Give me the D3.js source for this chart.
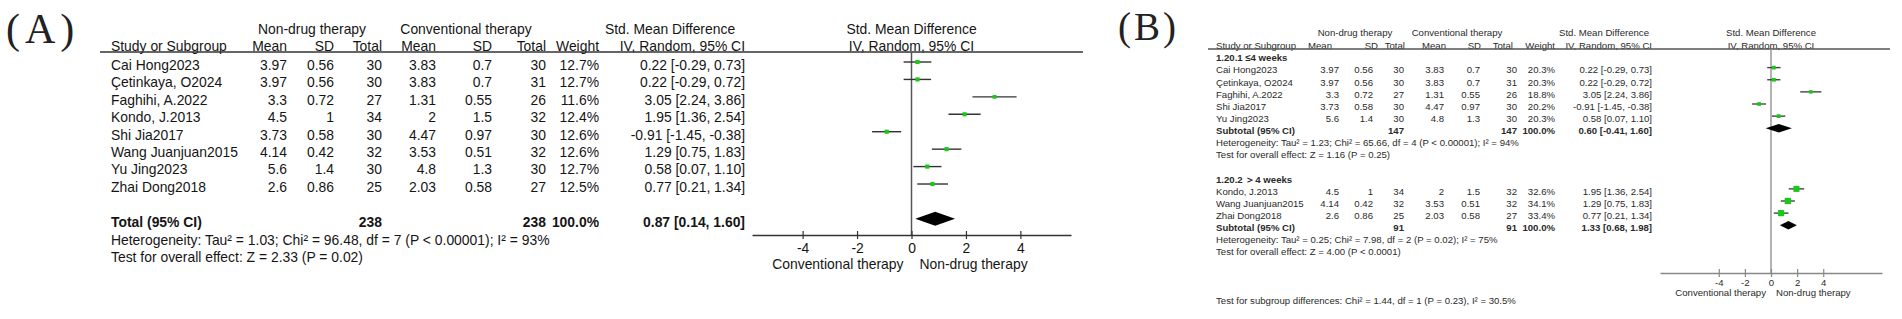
<!DOCTYPE html>
<html>
<head>
<meta charset="utf-8">
<script src="https://cdn.jsdelivr.net/npm/d3@7"></script>
<style>
  body { margin: 0; background: #fff; }
  text { font-family: "Liberation Sans", Arial, sans-serif; }
</style>
</head>
<body>
<script>
// study data (panel A order)
const studies = ['Cai Hong2023', 'Çetinkaya, O2024', 'Faghihi, A.2022', 'Kondo, J.2013',
  'Shi Jia2017', 'Wang Juanjuan2015', 'Yu Jing2023', 'Zhai Dong2018']
const meanNon = [3.97, 3.97, 3.3, 4.5, 3.73, 4.14, 5.6, 2.6]
const sdNon = [0.56, 0.56, 0.72, 1, 0.58, 0.42, 1.4, 0.86]
const totalNon = [30, 30, 27, 34, 30, 32, 30, 25]
const meanConv = [3.83, 3.83, 1.31, 2, 4.47, 3.53, 4.8, 2.03]
const sdConv = [0.7, 0.7, 0.55, 1.5, 0.97, 0.51, 1.3, 0.58]
const totalConv = [30, 31, 26, 32, 30, 32, 30, 27]
const smd = [0.22, 0.22, 3.05, 1.95, -0.91, 1.29, 0.58, 0.77]
const ciLow = [-0.29, -0.29, 2.24, 1.36, -1.45, 0.75, 0.07, 0.21]
const ciHigh = [0.73, 0.72, 3.86, 2.54, -0.38, 1.83, 1.10, 1.34]
const weightA = [12.7, 12.7, 11.6, 12.4, 12.6, 12.6, 12.7, 12.5]

// panel B subgroups
const groupB1 = ['Cai Hong2023', 'Çetinkaya, O2024', 'Faghihi, A.2022', 'Shi Jia2017', 'Yu Jing2023']
const weightB1 = [20.3, 20.3, 18.8, 20.2, 20.3]
const groupB2 = ['Kondo, J.2013', 'Wang Juanjuan2015', 'Zhai Dong2018']
const weightB2 = [32.6, 34.1, 33.4]

// pooled estimate, low, high
const pooledA = [0.87, 0.14, 1.60]
const pooledB1 = [0.60, -0.41, 1.60]
const pooledB2 = [1.33, 0.68, 1.98]

const notesA = ['Heterogeneity: Tau² = 1.03; Chi² = 96.48, df = 7 (P < 0.00001); I² = 93%',
  'Test for overall effect: Z = 2.33 (P = 0.02)']
const notesB1 = ['Heterogeneity: Tau² = 1.23; Chi² = 65.66, df = 4 (P < 0.00001); I² = 94%',
  'Test for overall effect: Z = 1.16 (P = 0.25)']
const notesB2 = ['Heterogeneity: Tau² = 0.25; Chi² = 7.98, df = 2 (P = 0.02); I² = 75%',
  'Test for overall effect: Z = 4.00 (P < 0.0001)']
const noteSubgroup = 'Test for subgroup differences: Chi² = 1.44, df = 1 (P = 0.23), I² = 30.5%'

const header1 = ['Non-drug therapy', 'Conventional therapy', 'Std. Mean Difference', 'Std. Mean Difference']
const header2 = ['Mean', 'SD', 'Total', 'Mean', 'SD', 'Total', 'Weight', 'IV, Random, 95% CI']
const tickVals = [-4, -2, 0, 2, 4]
const sideLabels = ['Conventional therapy', 'Non-drug therapy']

const svg = d3.select('body').append('svg')
  .attr('width', 1902)
  .attr('height', 319)

const ciText = (e, l, h) => `${e.toFixed(2)} [${l.toFixed(2)}, ${h.toFixed(2)}]`

function studyRow(name, idx, w) {
  const i = studies.indexOf(name)
  return {
    kind: 'study', idx, name, w,
    vals: [meanNon[i], sdNon[i], totalNon[i], meanConv[i], sdConv[i], totalConv[i]],
    est: smd[i], lo: ciLow[i], hi: ciHigh[i]
  }
}

function totalRow(label, idx, names, pooled) {
  const ids = names.map(n => studies.indexOf(n))
  return {
    kind: 'total', idx, name: label,
    nNon: d3.sum(ids, i => totalNon[i]), nConv: d3.sum(ids, i => totalConv[i]),
    est: pooled[0], lo: pooled[1], hi: pooled[2]
  }
}

const rowsA = studies.map((s, i) => studyRow(s, i, weightA[i]))
  .concat([totalRow('Total (95% CI)', 9, studies, pooledA),
    { kind: 'note', idx: 10.05, name: notesA[0] },
    { kind: 'note', idx: 11.05, name: notesA[1] }])

const rowsB = [{ kind: 'group', idx: 0, name: '1.20.1 ≤4 weeks' }]
  .concat(groupB1.map((s, i) => studyRow(s, i + 1, weightB1[i])))
  .concat([totalRow('Subtotal (95% CI)', 6, groupB1, pooledB1),
    { kind: 'note', idx: 7, name: notesB1[0] },
    { kind: 'note', idx: 8, name: notesB1[1] },
    { kind: 'group', idx: 10, name: '1.20.2 ＞4 weeks' }])
  .concat(groupB2.map((s, i) => studyRow(s, i + 11, weightB2[i])))
  .concat([totalRow('Subtotal (95% CI)', 14, groupB2, pooledB2),
    { kind: 'note', idx: 15, name: notesB2[0] },
    { kind: 'note', idx: 16, name: notesB2[1] },
    { kind: 'note', idx: 20, name: noteSubgroup }])

function drawPanel(p, rows) {
  const g = svg.append('g').attr('fill', p.ink).style('font-size', p.font + 'px')
  const x = d3.scaleLinear().domain(p.domain).range(p.range)
  const y = d3.scaleLinear().domain([0, 1]).range([p.y0, p.y0 + p.step])
  const sq = d3.scaleLinear().domain([0, 100]).range([0, p.sqMax])
  const x0 = x(0)

  // panel tag
  g.append('text')
    .attr('x', p.tag[0]).attr('y', p.tag[1])
    .style('font-family', '"Liberation Serif", "Times New Roman", serif')
    .style('font-size', p.tag[2] + 'px')
    .style('letter-spacing', p.tag[3] + 'px')
    .attr('fill', '#222')
    .text(p.tagText)

  // headers
  g.selectAll('.h1').data(header1).enter().append('text')
    .attr('class', 'h1')
    .attr('x', (d, i) => i === 3 ? x0 : p.h1x[i])
    .attr('y', p.h1y).attr('dy', '0.35em')
    .attr('text-anchor', 'middle')
    .text(d => d)
  g.append('text')
    .attr('x', p.nameX).attr('y', p.h2y).attr('dy', '0.35em')
    .text('Study or Subgroup')
  g.selectAll('.h2').data(header2).enter().append('text')
    .attr('class', 'h2')
    .attr('x', (d, i) => p.hcols[i])
    .attr('y', p.h2y).attr('dy', '0.35em')
    .attr('text-anchor', 'end')
    .text(d => d)
  g.append('text')
    .attr('x', x0).attr('y', p.h2y).attr('dy', '0.35em')
    .attr('text-anchor', 'middle')
    .text(header2[7])
  g.append('line')
    .attr('x1', p.lineX[0]).attr('x2', p.lineX[1])
    .attr('y1', p.lineY).attr('y2', p.lineY)
    .attr('stroke', p.lineColor).attr('stroke-width', 1.3)

  // zero line
  g.append('line')
    .attr('x1', x0).attr('x2', x0)
    .attr('y1', p.lineY).attr('y2', p.axisY)
    .attr('stroke', p.zeroColor).attr('stroke-width', 1.5)

  // rows
  rows.forEach(r => {
    const ry = y(r.idx)
    const bold = r.kind === 'total' || r.kind === 'group'
    g.append('text')
      .attr('x', p.nameX).attr('y', ry).attr('dy', '0.35em')
      .style('font-weight', bold ? 'bold' : 'normal')
      .text(r.name)
    if (r.kind === 'study') {
      const cells = r.vals.map(String).concat([r.w.toFixed(1) + '%', ciText(r.est, r.lo, r.hi)])
      cells.forEach((c, i) => {
        g.append('text')
          .attr('x', p.cols[i]).attr('y', ry).attr('dy', '0.35em')
          .attr('text-anchor', 'end')
          .text(c)
      })
      const my = ry - p.markOff
      g.append('line')
        .attr('x1', x(r.lo)).attr('x2', x(r.hi))
        .attr('y1', my).attr('y2', my)
        .attr('stroke', p.ciColor).attr('stroke-width', 1.4)
      const s = sq(r.w)
      g.append('rect')
        .attr('x', x(r.est) - s / 2).attr('y', my - s / 2)
        .attr('width', s).attr('height', s)
        .attr('fill', '#19c819')
    } else if (r.kind === 'total') {
      const cells = [[2, r.nNon], [5, r.nConv], [6, '100.0%'], [7, ciText(r.est, r.lo, r.hi)]]
      cells.forEach(([i, c]) => {
        g.append('text')
          .attr('x', p.cols[i]).attr('y', ry).attr('dy', '0.35em')
          .attr('text-anchor', 'end')
          .style('font-weight', 'bold')
          .text(c)
      })
      const my = ry - p.markOff
      const h = p.diamond
      g.append('path')
        .attr('d', `M${x(r.lo)},${my}L${x(r.est)},${my - h}L${x(r.hi)},${my}L${x(r.est)},${my + h}Z`)
        .attr('fill', '#000')
    }
  })

  // axis
  const axis = g.append('g')
    .attr('transform', `translate(0,${p.axisY})`)
    .call(d3.axisBottom(x)
      .tickValues(tickVals)
      .tickSizeInner(p.tick)
      .tickSizeOuter(0)
      .tickPadding(p.tickPad)
      .tickFormat(d => String(d)))
  axis.attr('font-size', p.font).attr('font-family', null)
  axis.select('.domain').attr('stroke', p.axisColor).attr('stroke-width', 1.4)
  axis.selectAll('.tick line').attr('y1', -p.tick).attr('stroke', p.axisColor).attr('stroke-width', 1.2)
  axis.selectAll('.tick text').attr('fill', p.ink)

  g.append('text')
    .attr('x', x0 - p.sideGap).attr('y', p.sideY).attr('dy', '0.35em')
    .attr('text-anchor', 'end')
    .text(sideLabels[0])
  g.append('text')
    .attr('x', x0 + p.sideGap).attr('y', p.sideY).attr('dy', '0.35em')
    .text(sideLabels[1])
}

drawPanel({
  tagText: '(A)', tag: [6, 43, 42, 5],
  font: 13.9, ink: '#151515',
  nameX: 111,
  h1x: [312, 466, 670], h1y: 29, h2y: 46,
  hcols: [287, 334, 382, 436, 492, 546, 599, 745],
  cols: [287, 334, 382, 436, 492, 546, 599, 745],
  lineX: [100, 1083], lineY: 52, lineColor: '#333',
  domain: [-5.86, 5.86], range: [752, 1071],
  y0: 65, step: 17.43, markOff: 3,
  sqMax: 33, diamond: 7,
  ciColor: '#333', zeroColor: '#555', axisColor: '#333',
  axisY: 235, tick: 4, tickPad: 4,
  sideY: 264, sideGap: 8
}, rowsA)

drawPanel({
  tagText: '(B)', tag: [1118, 40, 39, 3],
  font: 9.6, ink: '#2a2a2a',
  nameX: 1216,
  h1x: [1355, 1457, 1604], h1y: 33, h2y: 46,
  hcols: [1332, 1378, 1405, 1446, 1481, 1513, 1555, 1652],
  cols: [1339, 1373, 1404, 1444, 1480, 1517, 1555, 1652],
  lineX: [1208, 1890], lineY: 49, lineColor: '#555',
  domain: [-8.5, 8.5], range: [1660, 1882],
  y0: 58, step: 12.125, markOff: 2.5,
  sqMax: 18.5, diamond: 4.3,
  ciColor: '#444', zeroColor: '#999', axisColor: '#888',
  axisY: 273, tick: 4, tickPad: 2,
  sideY: 293, sideGap: 5
}, rowsB)
</script>
</body>
</html>
